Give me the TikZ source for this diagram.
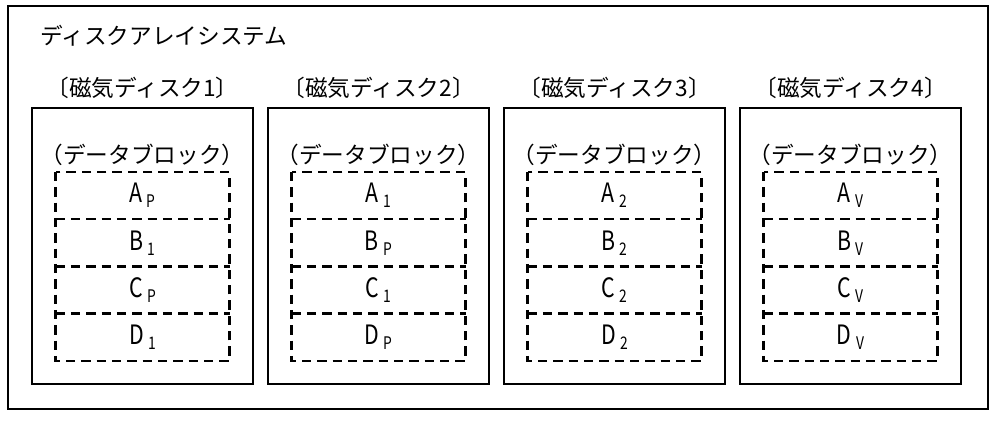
\documentclass[tikz,border=0pt]{standalone}
\usepackage{fontspec}
\setmainfont{Noto Sans CJK JP}
\newfontfamily\narrowfont[FakeStretch=0.8]{Noto Sans CJK JP}
\usetikzlibrary{positioning}
\tikzset{%
  frame/.style={draw, line width=1.5pt},
  disk/.style={draw, line width=1.8pt, minimum width=165.75pt, minimum height=207pt, inner sep=0pt, outer sep=0pt},
  caption/.style={font=\fontsize{17}{20}\selectfont, inner sep=0pt},
  block/.style={minimum width=130.5pt, minimum height=35.4pt, inner sep=0pt, outer sep=0pt, font=\narrowfont\fontsize{20}{22}\selectfont},
  blockline/.style={line width=1.9pt, dash pattern=on 7pt off 4.5pt},
}
\newcommand{\blk}[2]{#1\,\raisebox{-0.35ex}{\fontsize{13}{15}\selectfont #2}}

\begin{document}
\begin{tikzpicture}[x=0.75pt, y=-0.75pt]
  \useasboundingbox (0,0) rectangle (1005,423);
  \draw[frame] (8,6) rectangle (988,409);
  \node[caption, anchor=west] (title) at (40,36) {ディスクアレイシステム};

  % disks
  \node[disk] (d1) at (142.5,246) {};
  \node[disk, right=11.25pt of d1] (d2) {};
  \node[disk, right=11.25pt of d2] (d3) {};
  \node[disk, right=11.25pt of d3] (d4) {};

  \node[caption] (l1) at ([yshift=15pt]d1.north) {〔磁気ディスク1〕};
  \node[caption] (l2) at ([yshift=15pt]d2.north) {〔磁気ディスク2〕};
  \node[caption] (l3) at ([yshift=15pt]d3.north) {〔磁気ディスク3〕};
  \node[caption] (l4) at ([yshift=15pt]d4.north) {〔磁気ディスク4〕};

  \node[caption] (c1) at ([yshift=-35.25pt]d1.north) {（データブロック）};
  \node[caption] (c2) at ([yshift=-35.25pt]d2.north) {（データブロック）};
  \node[caption] (c3) at ([yshift=-35.25pt]d3.north) {（データブロック）};
  \node[caption] (c4) at ([yshift=-35.25pt]d4.north) {（データブロック）};

  % blocks of disk 1
  \node[block] (a1) at ([yshift=-65.7pt]d1.north) {\blk{A}{P}};
  \node[block, below=0pt of a1] (b1) {\blk{B}{1}};
  \node[block, below=0pt of b1] (e1) {\blk{C}{P}};
  \node[block, below=0pt of e1] (f1) {\blk{D}{1}};

  % blocks of disk 2
  \node[block] (a2) at ([yshift=-65.7pt]d2.north) {\blk{A}{1}};
  \node[block, below=0pt of a2] (b2) {\blk{B}{P}};
  \node[block, below=0pt of b2] (e2) {\blk{C}{1}};
  \node[block, below=0pt of e2] (f2) {\blk{D}{P}};

  % blocks of disk 3
  \node[block] (a3) at ([yshift=-65.7pt]d3.north) {\blk{A}{2}};
  \node[block, below=0pt of a3] (b3) {\blk{B}{2}};
  \node[block, below=0pt of b3] (e3) {\blk{C}{2}};
  \node[block, below=0pt of e3] (f3) {\blk{D}{2}};

  % blocks of disk 4
  \node[block] (a4) at ([yshift=-65.7pt]d4.north) {\blk{A}{V}};
  \node[block, below=0pt of a4] (b4) {\blk{B}{V}};
  \node[block, below=0pt of b4] (e4) {\blk{C}{V}};
  \node[block, below=0pt of e4] (f4) {\blk{D}{V}};

  \draw[blockline] (a1.north west) rectangle (f1.south east);
  \draw[blockline] (a1.south west) -- (a1.south east);
  \draw[blockline] (b1.south west) -- (b1.south east);
  \draw[blockline] (e1.south west) -- (e1.south east);

  \draw[blockline] (a2.north west) rectangle (f2.south east);
  \draw[blockline] (a2.south west) -- (a2.south east);
  \draw[blockline] (b2.south west) -- (b2.south east);
  \draw[blockline] (e2.south west) -- (e2.south east);

  \draw[blockline] (a3.north west) rectangle (f3.south east);
  \draw[blockline] (a3.south west) -- (a3.south east);
  \draw[blockline] (b3.south west) -- (b3.south east);
  \draw[blockline] (e3.south west) -- (e3.south east);

  \draw[blockline] (a4.north west) rectangle (f4.south east);
  \draw[blockline] (a4.south west) -- (a4.south east);
  \draw[blockline] (b4.south west) -- (b4.south east);
  \draw[blockline] (e4.south west) -- (e4.south east);
\end{tikzpicture}
\end{document}
